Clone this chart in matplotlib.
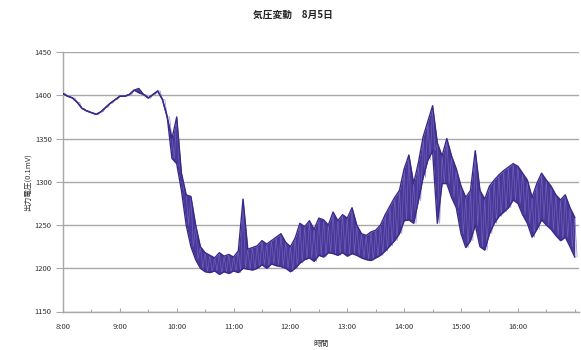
import numpy as np
import matplotlib
matplotlib.use("Agg")
import matplotlib.pyplot as plt
from matplotlib.ticker import MultipleLocator

plt.rcParams['font.family'] = ['Noto Sans CJK JP', 'DejaVu Sans']

# Sensor output sampled every 5 minutes from 8:00 (minutes since 8:00)
minutes = np.arange(0, 545, 5)

# Lower / upper envelope of the fluctuating reading in each 5-minute slot
low = [1402, 1399, 1397, 1392, 1385, 1382, 1380, 1378, 1381, 1386,
       1391, 1395, 1399, 1399, 1401, 1406, 1403, 1401, 1397, 1401,
       1405, 1395, 1375, 1327, 1321, 1290, 1250, 1225, 1210, 1200,
       1196, 1195, 1197, 1193, 1196, 1194, 1197, 1195, 1200, 1199,
       1198, 1200, 1204, 1200, 1205, 1203, 1202, 1200, 1196, 1200,
       1206, 1210, 1212, 1208, 1215, 1213, 1218, 1217, 1215, 1218,
       1214, 1217, 1215, 1212, 1210, 1209, 1212, 1215, 1220, 1226,
       1232, 1240, 1255, 1256, 1252, 1278, 1305, 1325, 1336, 1252,
       1298, 1298, 1282, 1270, 1240, 1224, 1232, 1250, 1225, 1221,
       1240, 1252, 1260, 1265, 1270, 1279, 1275, 1262, 1252, 1236,
       1245, 1256, 1250, 1245, 1238, 1232, 1236, 1225, 1213]
high = [1402, 1399, 1397, 1392, 1385, 1382, 1380, 1378, 1381, 1386,
        1391, 1395, 1399, 1399, 1401, 1406, 1408, 1401, 1397, 1401,
        1405, 1395, 1375, 1350, 1375, 1310, 1285, 1283, 1250, 1225,
        1218, 1215, 1212, 1218, 1214, 1216, 1213, 1220, 1280, 1222,
        1224, 1226, 1232, 1228, 1232, 1236, 1240, 1230, 1225, 1235,
        1252, 1248, 1255, 1245, 1258, 1256, 1250, 1265, 1255, 1262,
        1258, 1270, 1250, 1240, 1238, 1242, 1244, 1250, 1262, 1272,
        1282, 1290, 1315, 1331, 1298, 1322, 1352, 1370, 1388, 1345,
        1330, 1350, 1330, 1315, 1295, 1282, 1290, 1336, 1290, 1280,
        1295, 1302, 1308, 1313, 1317, 1321, 1318, 1310, 1302, 1282,
        1298, 1310, 1302, 1295, 1285, 1279, 1285, 1270, 1259]

hour_labels = ['8:00', '9:00', '10:00', '11:00', '12:00', '13:00',
               '14:00', '15:00', '16:00']
y_ticks = [1150, 1200, 1250, 1300, 1350, 1400, 1450]

title = '気圧変動　8月5日'
x_title = '時間'
y_title = '出力電圧(0.1mV)'

line_color = '#3a2a88'
band_color = '#4a3898'
streak_color = '#7a68c4'
grid_color = '#a8a8a8'

fig = plt.figure(figsize=(5.81, 3.5), dpi=100)
ax = fig.add_axes([0.1084, 0.110, 0.889, 0.741])

low_a = np.array(low, dtype=float)
high_a = np.array(high, dtype=float)

# Filled band between the envelopes
ax.fill_between(minutes, low_a, high_a, color=band_color,
                linewidth=0, zorder=2)

# Lighter zig-zag streaks inside the band, alternating between envelopes
zz_t = np.column_stack([minutes, minutes + 2.5]).ravel()
zz_v = np.column_stack([high_a, low_a]).ravel()
ax.plot(zz_t, zz_v, color=streak_color, linewidth=0.5, alpha=0.8, zorder=3)
ax.plot(minutes, low_a, color=line_color, linewidth=1.0, zorder=4)
ax.plot(minutes, high_a, color=line_color, linewidth=1.0, zorder=4)

ax.set_xlim(0, 545)
ax.set_ylim(1150, 1450)
ax.set_yticks(y_ticks)
ax.set_yticklabels([str(v) for v in y_ticks])
ax.set_xticks(np.arange(len(hour_labels)) * 60)
ax.set_xticklabels(hour_labels)
ax.xaxis.set_minor_locator(MultipleLocator(30))

ax.yaxis.grid(True, color=grid_color, linewidth=1.0, zorder=1)
ax.set_axisbelow(True)

for side in ('top', 'right'):
    ax.spines[side].set_visible(False)
for side in ('left', 'bottom'):
    ax.spines[side].set_color(grid_color)
    ax.spines[side].set_linewidth(1.0)

ax.tick_params(axis='y', which='major', length=5, width=0.8,
               color=grid_color, labelsize=5.5, labelcolor='#333333', pad=3)
ax.tick_params(axis='x', which='major', direction='in', length=3, width=0.8,
               color=grid_color, labelsize=5.5, labelcolor='#333333', pad=8)
ax.tick_params(axis='x', which='minor', direction='in', length=2, width=0.8,
               color=grid_color)

fig.text(0.505, 0.957, title, fontsize=7, fontweight='bold',
         color='#222222', ha='center', va='center')
ax.set_xlabel(x_title, fontsize=5.5, color='#333333', labelpad=7)
ax.set_ylabel(y_title, fontsize=5.5, color='#333333', labelpad=2)

fig.savefig('out.png', dpi=100)
